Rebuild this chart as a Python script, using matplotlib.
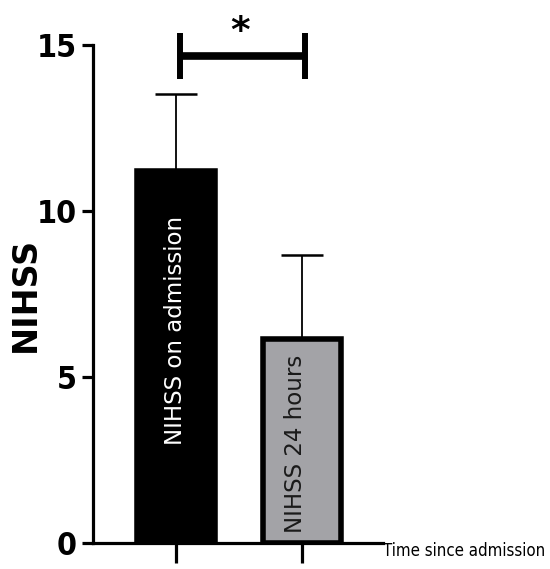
import matplotlib
matplotlib.use("Agg")
import matplotlib.pyplot as plt
from matplotlib import font_manager
from matplotlib.font_manager import FontProperties

# ---- data ----
categories = ["NIHSS on admission", "NIHSS 24 hours"]
means = [11.2, 6.15]
sem_upper = [2.32, 2.53]
bar_colors = ["#000000", "#a3a3a7"]
text_colors = ["#ffffff", "#1a1a1a"]
text_y = [6.42, 3.0]
text_x_offset = [0.0, -0.05]
y_ticks = [0, 5, 10, 15]
y_label = "NIHSS"
x_label = "Time since admission"
sig_label = "*"


def find_condensed(bold=False):
    cands = []
    for f in font_manager.fontManager.ttflist:
        nm = f.name.lower()
        fn = f.fname.lower()
        is_cond = (str(f.stretch) in ("condensed", "semi-condensed", "extra-condensed")
                   or "narrow" in nm or "condensed" in nm or "narrow" in fn or "condensed" in fn)
        if not is_cond:
            continue
        w = f.weight if isinstance(f.weight, int) else (700 if "bold" in str(f.weight) else 400)
        if bold != (w >= 600):
            continue
        if "italic" in str(f.style) or "oblique" in str(f.style) or "italic" in fn:
            continue
        score = 0 if ("liberation" in nm or "arial" in nm) else 1
        cands.append((score, f.fname))
    cands.sort()
    return cands[0][1] if cands else None


cond_reg = find_condensed(False)
cond_bold = find_condensed(True)
fp_xlabel = FontProperties(fname=cond_reg) if cond_reg else FontProperties(family="Liberation Sans")
fp_ticks = FontProperties(fname=cond_bold) if cond_bold else FontProperties(family="Liberation Sans", weight="bold")

fig = plt.figure(figsize=(5.5, 5.69), dpi=100)
ax = fig.add_axes([0.1685, 0.04517, 0.6964 - 0.1685, 0.9209 - 0.04517])

x = list(range(len(categories)))
ax.errorbar(x, means, yerr=[[0] * len(means), sem_upper], fmt="none",
            ecolor="black", elinewidth=1.3, capsize=15, capthick=1.8, zorder=1)
ax.bar(x, means, width=0.62, color=bar_colors, edgecolor="black",
       linewidth=4, zorder=2)

for i, (lab, ty) in enumerate(zip(categories, text_y)):
    ax.text(i + text_x_offset[i], ty, lab, rotation=90, ha="center", va="center",
            color=text_colors[i], fontsize=16.5, family="DejaVu Sans", zorder=3)

ax.set_xlim(-0.661, 1.643)
ax.set_ylim(0, 15)
ax.set_yticks(y_ticks)
ax.set_yticklabels([str(t) for t in y_ticks])
for lbl in ax.get_yticklabels():
    lbl.set_fontproperties(fp_ticks)
    lbl.set_fontsize(23)
ax.set_xticks(x)
ax.set_xticklabels([])

for s in ["top", "right"]:
    ax.spines[s].set_visible(False)
for s in ["left", "bottom"]:
    ax.spines[s].set_linewidth(2.3)
    ax.spines[s].set_capstyle("projecting")
ax.tick_params(axis="y", direction="out", length=8, width=2.3, pad=3.5)
ax.tick_params(axis="x", direction="out", length=14.5, width=2.3)

# significance bracket
x1, x2 = 0.03, 1.02
yb, ylo, yhi = 14.67, 13.98, 15.36
ax.plot([x1, x2], [yb, yb], color="black", lw=5.5, clip_on=False,
        solid_capstyle="butt")
ax.plot([x1, x1], [ylo, yhi], color="black", lw=4.3, clip_on=False,
        solid_capstyle="butt")
ax.plot([x2, x2], [ylo, yhi], color="black", lw=4.3, clip_on=False,
        solid_capstyle="butt")
ax.text((x1 + x2) / 2 - 0.02, 15.1, sig_label, ha="center", va="baseline",
        fontsize=27, fontweight="bold", family="DejaVu Sans", clip_on=False)

# labels
fig.text(25 / 550, 1 - 294 / 569, y_label, rotation=90, ha="center", va="center",
         fontsize=24, fontweight="bold", family="DejaVu Sans")
xl = ax.text(1.643, -0.38, x_label, ha="left", va="baseline", fontsize=16,
             fontproperties=fp_xlabel, clip_on=False)
xl.set_fontsize(16)

# shrink x label so it fits between axis end and figure edge (~164 px)
fig.canvas.draw()
renderer = fig.canvas.get_renderer()
target = 164.0
for _ in range(20):
    w = xl.get_window_extent(renderer).width
    if w <= target:
        break
    xl.set_fontsize(xl.get_fontsize() * target / w * 0.995)
    fig.canvas.draw()

fig.savefig("out.png", dpi=100)
